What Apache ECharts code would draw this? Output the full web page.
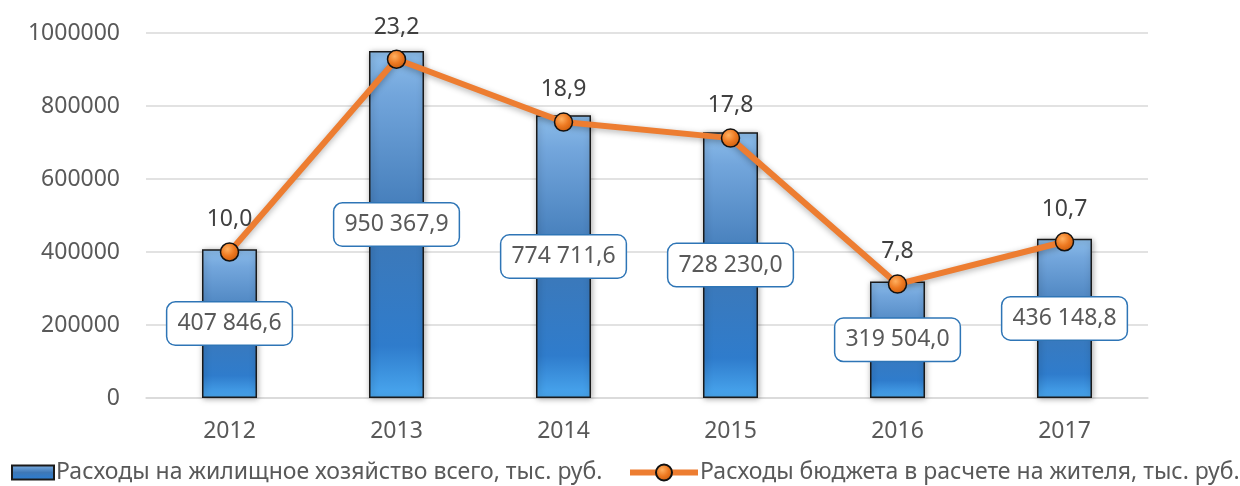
<!DOCTYPE html>
<html>
<head>
<meta charset="utf-8">
<script src="https://cdn.jsdelivr.net/npm/echarts@6/dist/echarts.min.js"></script>
<style>
  html, body { margin: 0; padding: 0; background: #fff; }
  #chart { width: 1240px; height: 486px; }
</style>
</head>
<body>
<div id="chart"></div>
<script>
// Годы
const years = ['2012', '2013', '2014', '2015', '2016', '2017'];
// Расходы на жилищное хозяйство всего, тыс. руб.
const housingTotal = [407846.6, 950367.9, 774711.6, 728230.0, 319504.0, 436148.8];
// Расходы бюджета в расчете на жителя, тыс. руб.
const perResident = [10.0, 23.2, 18.9, 17.8, 7.8, 10.7];

const seriesNames = [
  'Расходы на жилищное хозяйство всего, тыс. руб.',
  'Расходы бюджета в расчете на жителя, тыс. руб.'
];

const FONT = '"Noto Sans", "DejaVu Sans", sans-serif';
const TEXT = '#595959';

// 950367.9 -> "950 367,9"
function fmtThousands(v) {
  const parts = v.toFixed(1).split('.');
  const intPart = parts[0].replace(/\B(?=(\d{3})+(?!\d))/g, ' ');
  return intPart + ',' + parts[1];
}
function fmtComma(v) {
  return v.toFixed(1).replace('.', ',');
}

const barGradient = new echarts.graphic.LinearGradient(0, 0, 0, 1, [
  { offset: 0, color: '#8cbdea' },
  { offset: 0.12, color: '#73a6dc' },
  { offset: 0.5, color: '#3e78b6' },
  { offset: 0.85, color: '#2f7ccc' },
  { offset: 1, color: '#4aa8f0' }
]);

const markerGradient = new echarts.graphic.RadialGradient(0.4, 0.35, 0.7, [
  { offset: 0, color: '#ffb060' },
  { offset: 0.5, color: '#ee7a22' },
  { offset: 1, color: '#c85a0a' }
]);

const legendText = { fontFamily: FONT, fontSize: 23, color: TEXT, padding: [0, 0, 0, -3] };

const chart = echarts.init(document.getElementById('chart'), null, { renderer: 'canvas' });

chart.setOption({
  animation: false,
  textStyle: { fontFamily: FONT },
  grid: { left: 146, right: 92, top: 33, bottom: 88, containLabel: false },
  legend: [
    {
      left: 6,
      top: 456,
      itemWidth: 42,
      itemHeight: 14,
      textStyle: legendText,
      data: [{ name: seriesNames[0], icon: 'rect' }]
    },
    {
      left: 622,
      top: 456,
      itemWidth: 68,
      itemHeight: 20,
      textStyle: legendText,
      data: [{
        name: seriesNames[1],
        lineStyle: { width: 6, color: '#ed7d31' }
      }]
    }
  ],
  xAxis: {
    type: 'category',
    data: years,
    axisTick: { show: false },
    axisLine: { lineStyle: { color: '#d9d9d9', width: 1.5 } },
    axisLabel: { fontFamily: FONT, fontSize: 23, color: TEXT, margin: 22 }
  },
  yAxis: [
    {
      type: 'value',
      min: 0,
      max: 1000000,
      interval: 200000,
      axisLine: { show: false },
      axisTick: { show: false },
      axisLabel: {
        fontFamily: FONT, fontSize: 23, color: TEXT, margin: 26,
        formatter: v => String(v)
      },
      splitLine: { lineStyle: { color: '#d9d9d9', width: 1.5 } }
    },
    {
      type: 'value',
      min: 0,
      max: 25,
      show: false,
      splitLine: { show: false }
    }
  ],
  series: [
    {
      name: seriesNames[0],
      type: 'bar',
      data: housingTotal,
      barWidth: 55,
      z: 2,
      itemStyle: {
        color: barGradient,
        borderColor: '#1a1a1a',
        borderWidth: 1.5,
        shadowBlur: 6,
        shadowColor: 'rgba(0,0,0,0.35)',
        shadowOffsetX: 1,
        shadowOffsetY: 1
      },
      label: {
        show: true,
        position: 'inside',
        formatter: p => fmtThousands(p.value),
        fontFamily: FONT,
        fontSize: 23,
        color: TEXT,
        backgroundColor: '#ffffff',
        borderColor: '#2e75b6',
        borderWidth: 1.5,
        borderRadius: 8,
        padding: [10, 10, 9, 10]
      }
    },
    {
      name: seriesNames[1],
      type: 'line',
      yAxisIndex: 1,
      data: perResident,
      z: 5,
      symbol: 'circle',
      symbolSize: 18,
      lineStyle: {
        color: '#ed7d31',
        width: 6,
        shadowBlur: 6,
        shadowColor: 'rgba(0,0,0,0.3)',
        shadowOffsetY: 2
      },
      itemStyle: {
        color: markerGradient,
        borderColor: '#111',
        borderWidth: 1.5
      },
      label: {
        show: true,
        position: 'top',
        distance: 11,
        formatter: p => fmtComma(p.value),
        fontFamily: FONT,
        fontSize: 23,
        color: '#404040'
      }
    }
  ]
});
</script>
</body>
</html>
